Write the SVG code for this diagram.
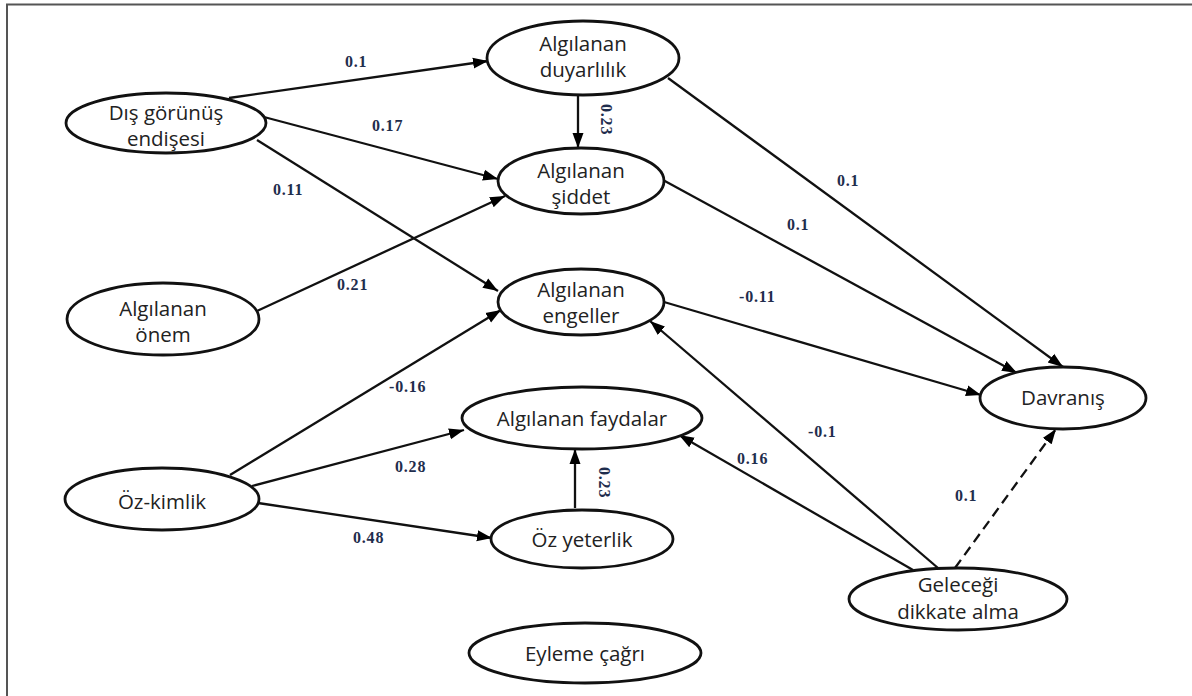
<svg xmlns="http://www.w3.org/2000/svg" width="1192" height="696" viewBox="0 0 1192 696">
<defs>
<marker id="ah" markerUnits="userSpaceOnUse" markerWidth="18" markerHeight="14" refX="15" refY="7" orient="auto">
<path d="M0,1.5 L15,7 L0,12.5 Z" fill="#000"/>
</marker>
<style>
.n ellipse{fill:#fff;stroke:#111;stroke-width:2.8}
.n text{font-family:"Open Sans","Liberation Sans",sans-serif;font-size:20.5px;fill:#222;text-anchor:middle}
.c line{stroke:#111;stroke-width:2.3;marker-end:url(#ah)}
.c line.d{stroke-dasharray:10 6}
.l{font-family:"Liberation Serif","Times New Roman",serif;font-weight:bold;font-size:16px;fill:#1f2d4d;letter-spacing:0.8px}
</style>
</defs>
<rect width="1192" height="696" fill="#fff"/>
<rect x="7" y="4.5" width="1200" height="720" fill="none" stroke="#555" stroke-width="2"/>
<g class="c" id="connectors">
<line x1="229" y1="98" x2="488" y2="61"/>
<line x1="264" y1="117" x2="498" y2="179"/>
<line x1="257" y1="140" x2="498" y2="291"/>
<line x1="578" y1="95" x2="578" y2="148"/>
<line x1="257" y1="311" x2="505" y2="196"/>
<line x1="230" y1="475" x2="501" y2="310"/>
<line x1="252" y1="486" x2="464" y2="430"/>
<line x1="258" y1="503" x2="492" y2="538"/>
<line x1="575" y1="508" x2="575" y2="449"/>
<line x1="668" y1="78" x2="1063" y2="367"/>
<line x1="663" y1="180" x2="1017" y2="373"/>
<line x1="664" y1="302" x2="981" y2="395"/>
<line x1="938" y1="568" x2="650" y2="321"/>
<line x1="913" y1="570" x2="679" y2="435"/>
<line class="d" x1="955" y1="568" x2="1056" y2="429"/>
</g>
<g id="labels">
<text class="l" x="345" y="67">0.1</text>
<text class="l" x="372" y="131">0.17</text>
<text class="l" x="273" y="195">0.11</text>
<text class="l" transform="rotate(90 601 104)" x="601" y="104">0.23</text>
<text class="l" x="337" y="290">0.21</text>
<text class="l" x="389" y="392">-0.16</text>
<text class="l" x="395" y="472">0.28</text>
<text class="l" x="353" y="543">0.48</text>
<text class="l" transform="rotate(90 599 467)" x="599" y="467">0.23</text>
<text class="l" x="837" y="186">0.1</text>
<text class="l" x="787" y="230">0.1</text>
<text class="l" x="739" y="302">-0.11</text>
<text class="l" x="808" y="437">-0.1</text>
<text class="l" x="737" y="464">0.16</text>
<text class="l" x="955" y="501">0.1</text>
</g>
<g class="n" id="dis"><ellipse cx="166" cy="123" rx="100" ry="30"/><text x="166" y="120">Dış görünüş</text><text x="166" y="146">endişesi</text></g>
<g class="n" id="duyarlilik"><ellipse cx="583" cy="58" rx="96" ry="37"/><text x="583" y="51">Algılanan</text><text x="583" y="77">duyarlılık</text></g>
<g class="n" id="siddet"><ellipse cx="581" cy="181" rx="83" ry="33"/><text x="581" y="178">Algılanan</text><text x="581" y="204">şiddet</text></g>
<g class="n" id="onem"><ellipse cx="163" cy="319" rx="96" ry="36"/><text x="163" y="316">Algılanan</text><text x="163" y="342">önem</text></g>
<g class="n" id="engeller"><ellipse cx="581" cy="302" rx="83" ry="33"/><text x="581" y="297">Algılanan</text><text x="581" y="323">engeller</text></g>
<g class="n" id="faydalar"><ellipse cx="582" cy="418" rx="120" ry="31"/><text x="582" y="426">Algılanan faydalar</text></g>
<g class="n" id="ozkimlik"><ellipse cx="162" cy="499" rx="97" ry="31"/><text x="162" y="509">Öz-kimlik</text></g>
<g class="n" id="ozyeterlik"><ellipse cx="582" cy="539" rx="91" ry="29"/><text x="582" y="547">Öz yeterlik</text></g>
<g class="n" id="eyleme"><ellipse cx="585" cy="653" rx="116" ry="30"/><text x="585" y="661">Eyleme çağrı</text></g>
<g class="n" id="davranis"><ellipse cx="1063" cy="398" rx="83" ry="31"/><text x="1063" y="405">Davranış</text></g>
<g class="n" id="gelecegi"><ellipse cx="958" cy="599" rx="109" ry="31"/><text x="958" y="592">Geleceği</text><text x="958" y="619">dikkate alma</text></g>
</svg>
